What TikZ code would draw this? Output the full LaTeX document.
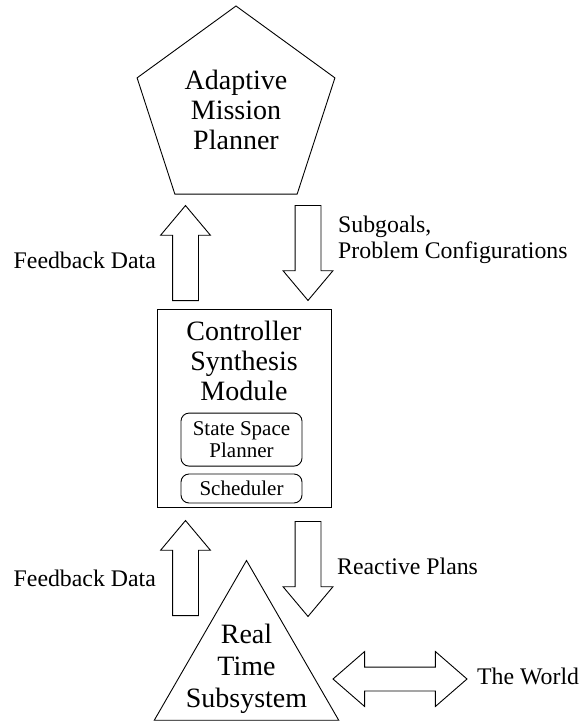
\documentclass[tikz,border=0pt]{standalone}
\usepackage{fontspec}
\setmainfont{Liberation Serif}
\usetikzlibrary{positioning,shapes.geometric,shapes.arrows}

\tikzset{
  outline/.style={draw, line width=0.9pt},
  bigtext/.style={font=\fontsize{28}{30}\selectfont, align=center, inner sep=0pt},
  lbltext/.style={font=\fontsize{23.8}{26}\selectfont, align=left, inner sep=0pt},
  subbox/.style={outline, rounded corners=8pt, minimum width=121pt, inner sep=0pt,
    font=\fontsize{21}{22}\selectfont, align=center},
  blockarrow/.style={outline, single arrow, minimum height=95pt, inner xsep=0pt, inner ysep=12.5pt,
    single arrow head extend=12pt, single arrow tip angle=80, anchor=tail},
  uparrow/.style={blockarrow, rotate=90},
  downarrow/.style={blockarrow, rotate=-90},
  twowayarrow/.style={outline, double arrow, minimum height=134pt, inner xsep=0pt, inner ysep=11.5pt,
    double arrow head extend=15.5pt, double arrow tip angle=82}
}

\begin{document}
\begin{tikzpicture}[x=1pt, y=-1pt]
  \useasboundingbox (0,0) rectangle (581,723);
  % Adaptive Mission Planner (pentagon)
  \node[outline, bigtext, regular polygon, regular polygon sides=5, minimum size=208pt] (amp) at (236,110) {Adaptive\\Mission\\Planner};
  % Controller Synthesis Module with its two parts
  \node[outline, minimum width=174pt, minimum height=198pt, inner sep=0pt] (csm) at (244,408) {};
  \node[bigtext, below=12pt of csm.north] (csmtitle) {Controller\\Synthesis\\Module};
  \node[subbox, minimum height=53pt, below=12pt of csmtitle, xshift=-2.5pt] (ssp) {State Space\\Planner};
  \node[subbox, minimum height=29pt, below=7pt of ssp] (sched) {Scheduler};
  % Real Time Subsystem (triangle)
  \node[outline, regular polygon, regular polygon sides=3, minimum size=213pt, inner sep=0pt] (rtsshape) at (246.5,667) {};
  \node[bigtext, font=\fontsize{28}{32}\selectfont] (rts) at (246.5,668.5) {Real\\Time\\Subsystem};
  % block arrows between the levels (placed by their tails)
  \node[uparrow] (fbup1) at (185.5,301) {};
  \node[downarrow] (goaldown) at (308,205) {};
  \node[uparrow] (fbup2) at (185.5,616) {};
  \node[downarrow] (plandown) at (308,521) {};
  \node[twowayarrow] (worldarrow) at (400,679) {};
  % labels
  \node[lbltext, anchor=base east] (fb1) at (156,268) {Feedback Data};
  \node[lbltext, anchor=west] (goals) at (338,239.5) {Subgoals,\\Problem Configurations};
  \node[lbltext, anchor=base east] (fb2) at (156,586) {Feedback Data};
  \node[lbltext, anchor=base west] (plans) at (337,574) {Reactive Plans};
  \node[lbltext, anchor=base west] (world) at (477,684) {The World};
\end{tikzpicture}
\end{document}
